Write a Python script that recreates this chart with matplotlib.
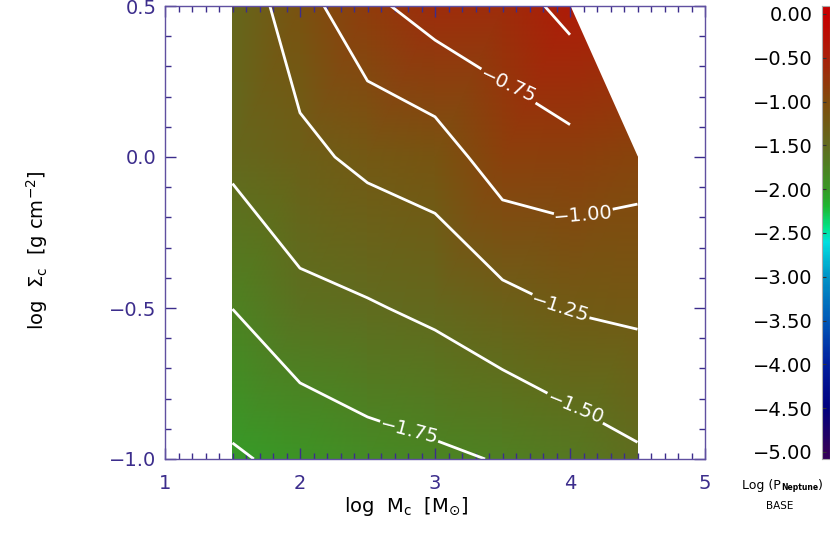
import numpy as np
import matplotlib
matplotlib.use('Agg')
import matplotlib.pyplot as plt
import matplotlib.tri as mtri
from matplotlib.colors import LinearSegmentedColormap
from matplotlib.ticker import MultipleLocator, FuncFormatter

# grid nodes of the model (log Mc, log Sigma_c)
x_nodes = [1.5, 2.0, 2.5, 3.0, 3.5, 4.0, 4.5]
y_nodes = [-1.0, -0.5, 0.0, 0.5]

# log P_Neptune at each node, one list per row of log Sigma_c
logp_sig_m10 = [-2.03, -1.935, -1.838, -1.793, -1.735, -1.647, -1.537]
logp_sig_m05 = [-1.748, -1.568, -1.522, -1.45, -1.338, -1.236, -1.203]
logp_sig_00 = [-1.447, -1.31, -1.194, -1.131, -0.866, -0.84, -0.908]
logp_sig_05 = [-1.43, -1.105, -0.809, -0.639, -0.632, -0.42, None]

plain_levels = [-2.0, -0.5]
labelled_levels = [-1.75, -1.5, -1.25, -1.0, -0.75]
label_spots = [(2.81, -0.905), (4.05, -0.815), (3.93, -0.50), (4.10, -0.20), (3.56, 0.255)]

x_ticks = [1, 2, 3, 4, 5]
y_ticks = [-1.0, -0.5, 0.0, 0.5]
cbar_ticks = [0.0, -0.5, -1.0, -1.5, -2.0, -2.5, -3.0, -3.5, -4.0, -4.5, -5.0]

# IDL-like colour table
cmap = LinearSegmentedColormap.from_list('idl', [
    (0.000, (0.20, 0.00, 0.35)),
    (0.100, (0.00, 0.00, 0.50)),
    (0.200, (0.00, 0.12, 0.62)),
    (0.300, (0.00, 0.35, 0.72)),
    (0.400, (0.00, 0.58, 0.78)),
    (0.480, (0.00, 0.88, 0.88)),
    (0.510, (0.00, 0.90, 0.55)),
    (0.560, (0.12, 0.72, 0.20)),
    (0.600, (0.22, 0.60, 0.15)),
    (0.700, (0.38, 0.42, 0.12)),
    (0.800, (0.50, 0.30, 0.05)),
    (0.900, (0.66, 0.13, 0.04)),
    (1.000, (0.78, 0.00, 0.00)),
])

tick_col = '#3c2d8c'
spine_col = '#6050a0'

# nodes and triangles for the shaded fill
z_rows = [logp_sig_m10, logp_sig_m05, logp_sig_00, logp_sig_05]
px, py, pz, idx = [], [], [], {}
for j in range(len(y_nodes)):
    for i in range(len(x_nodes)):
        v = z_rows[j][i]
        if v is None:
            continue
        idx[(i, j)] = len(px)
        px.append(x_nodes[i])
        py.append(y_nodes[j])
        pz.append(v)

tris = []
for j in range(len(y_nodes) - 1):
    for i in range(len(x_nodes) - 1):
        a, b, c, d = (i, j), (i + 1, j), (i + 1, j + 1), (i, j + 1)
        if c in idx:
            tris += [[idx[a], idx[b], idx[c]], [idx[a], idx[c], idx[d]]]
        else:
            tris.append([idx[a], idx[b], idx[d]])
tri_fill = mtri.Triangulation(px, py, tris)

# masked grid for the contour lines
Z = np.ma.masked_invalid(np.array([[np.nan if v is None else v for v in r] for r in z_rows]))

minus = lambda s: s.replace('-', '\u2212')

fig = plt.figure(figsize=(8.3, 5.54), dpi=100)
ax = fig.add_axes([165 / 830, 95 / 554, 540 / 830, 453 / 554])

ax.tripcolor(tri_fill, pz, shading='gouraud', cmap=cmap, vmin=-5, vmax=0)
ax.contour(x_nodes, y_nodes, Z, levels=plain_levels, colors='white', linewidths=2,
           linestyles='solid', corner_mask=False)
cs = ax.contour(x_nodes, y_nodes, Z, levels=labelled_levels, colors='white', linewidths=2,
                linestyles='solid', corner_mask=False)
ax.clabel(cs, manual=label_spots, inline=True, inline_spacing=10,
          fmt=lambda v: minus('%.2f' % v), fontsize=14, colors='white')

ax.set_xlim(1, 5)
ax.set_ylim(-1, 0.5)
ax.set_xticks(x_ticks)
ax.set_yticks(y_ticks)
ax.xaxis.set_minor_locator(MultipleLocator(0.1))
ax.yaxis.set_minor_locator(MultipleLocator(0.1))
ax.xaxis.set_major_formatter(FuncFormatter(lambda v, p: '%d' % v))
ax.yaxis.set_major_formatter(FuncFormatter(lambda v, p: minus('%.1f' % v)))
ax.tick_params(which='both', direction='in', top=True, right=True, color=tick_col,
               labelcolor=tick_col, labelsize=14, width=1)
ax.tick_params(which='major', length=8)
ax.tick_params(which='minor', length=4)
ax.tick_params(axis='x', pad=11)
ax.tick_params(axis='y', pad=6)
for s in ax.spines.values():
    s.set_color(spine_col)
    s.set_linewidth(1)

xlabel = r'log  M$_{\rm c}$  [M$_{' + '\u2299' + r'}$]'
fig.text(406 / 830, 1 - 507 / 554, xlabel, fontsize=14, ha='center', va='center')
fig.text(37 / 830, 1 - 250 / 554, r'log  $\Sigma_{\rm c}$  [g cm$^{-2}$]', fontsize=14,
         ha='center', va='center', rotation=90)

# colour bar
cax = fig.add_axes([822 / 830, 95 / 554, 8 / 830, 453 / 554])
grad = np.linspace(-5.08, 0.09, 300)[:, None]
cax.imshow(grad, cmap=cmap, vmin=-5, vmax=0, aspect='auto', origin='lower',
           extent=[0, 1, -5.08, 0.09])
cax.set_ylim(-5.08, 0.09)
cax.set_xticks([])
cax.set_yticks(cbar_ticks)
cax.yaxis.set_major_formatter(FuncFormatter(lambda v, p: minus('%.2f' % v)))
cax.tick_params(axis='y', direction='in', length=3, labelsize=14, pad=7, color='#333333')
for s in cax.spines.values():
    s.set_color('#aaaaaa')
    s.set_linewidth(0.8)

# colour bar title, built from pieces so the subscript can be tiny
renderer = fig.canvas.get_renderer()
ty = 1 - 485 / 554
t1 = fig.text(742 / 830, ty, 'Log (P', fontsize=9, ha='left', va='center')
x1 = t1.get_window_extent(renderer).x1 / 830
t2 = fig.text(x1, ty - 3 / 554, 'Neptune', fontsize=5.5, fontweight='bold', ha='left', va='center')
x2 = t2.get_window_extent(renderer).x1 / 830
fig.text(x2, ty, ')', fontsize=9, ha='left', va='center')
fig.text(780 / 830, 1 - 506 / 554, 'BASE', fontsize=7.5, ha='center', va='center')

fig.savefig('out.png', dpi=100)
